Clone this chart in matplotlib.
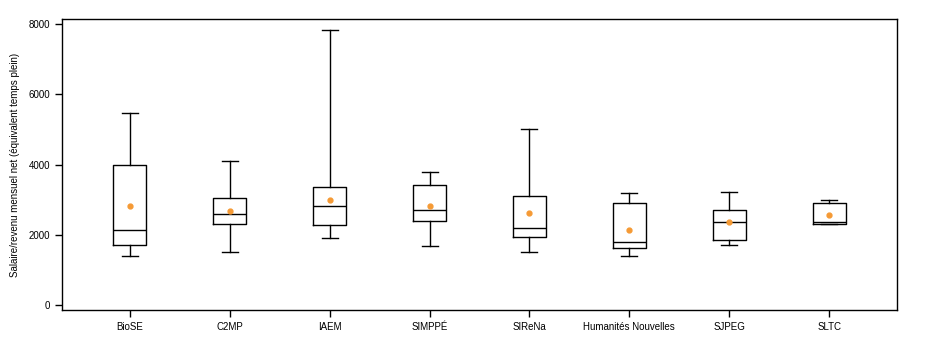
import matplotlib
matplotlib.use("Agg")
import matplotlib.pyplot as plt

plt.rcParams['font.family'] = ['Liberation Sans', 'DejaVu Sans']

labels = ["BioSE", "C2MP", "IAEM", "SIMPPÉ", "SIReNa", "Humanités Nouvelles", "SJPEG", "SLTC"]
whislo = [1390, 1500, 1900, 1670, 1500, 1390, 1700, 2300]
q1 = [1700, 2300, 2270, 2380, 1930, 1610, 1840, 2300]
med = [2130, 2580, 2810, 2700, 2180, 1790, 2350, 2350]
q3 = [3990, 3040, 3350, 3410, 3090, 2900, 2700, 2900]
whishi = [5460, 4090, 7820, 3780, 5000, 3180, 3210, 2980]
mean = [2810, 2670, 2980, 2810, 2610, 2130, 2350, 2550]

stats = []
for i in range(len(labels)):
    stats.append(dict(label=labels[i], whislo=whislo[i], q1=q1[i], med=med[i],
                      q3=q3[i], whishi=whishi[i], mean=mean[i], fliers=[]))

fig = plt.figure(figsize=(9.45, 3.4), dpi=100)
ax = fig.add_axes([62/945, 30/340, 835/945, 291/340])

line = dict(color="black", linewidth=1.0)
ax.bxp(stats, widths=0.33, showmeans=True, showfliers=False,
       boxprops=line, whiskerprops=line, capprops=line, medianprops=line,
       capwidths=0.16,
       meanprops=dict(marker="o", markerfacecolor="#f59a35", markeredgecolor="#f59a35", markersize=3.5))

ax.set_xlim(0.32, 8.68)
ax.set_ylim(-142, 8142)
ax.set_yticks([0, 2000, 4000, 6000, 8000])
ax.set_ylabel("Salaire/revenu mensuel net (équivalent temps plein)", fontsize=7, labelpad=6)
ax.tick_params(labelsize=7, length=5, width=1.0, direction="out")
for s in ax.spines.values():
    s.set_linewidth(1.0)

fig.savefig("out.png", dpi=100)
